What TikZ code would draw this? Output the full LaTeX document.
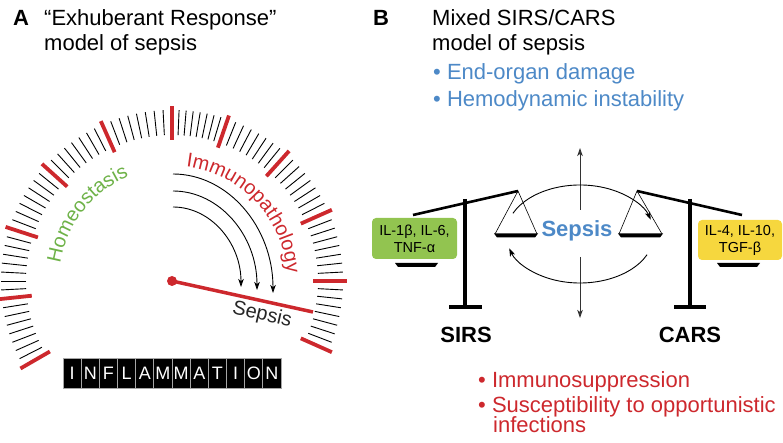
\documentclass[tikz,border=0pt]{standalone}
\usepackage{fontspec}
\setmainfont{Liberation Sans}
\usetikzlibrary{arrows.meta,decorations.text}
\definecolor{gred}{RGB}{205,40,45}
\definecolor{ggreen}{RGB}{110,178,72}
\definecolor{boxgreen}{RGB}{146,196,80}
\definecolor{boxyellow}{RGB}{246,215,62}
\definecolor{sblue}{RGB}{77,137,199}
\begin{document}
\begin{tikzpicture}[x=1pt,y=1pt,
  >={Stealth[length=8pt,width=5.5pt,inset=2pt]},
  txt/.style={anchor=base west,inner sep=0pt,font=\fontsize{22}{25}\selectfont},
  minor/.style={line width=0.9pt,black},
  major/.style={line width=3.8pt,gred},
  tile/.style={fill=black,draw=gray!70,line width=0.8pt,minimum width=18.17pt,minimum height=29.5pt,inner sep=0pt,text=white,font=\fontsize{18}{18}\selectfont},
  beam/.style={line width=2.6pt,black},
  post/.style={line width=4pt,black},
  strg/.style={line width=0.6pt,black},
  cbox/.style={rounded corners=4pt,minimum width=85pt,minimum height=41pt,inner sep=0pt,align=center,font=\fontsize{14.5}{17}\selectfont},
  conn/.style={->,line width=1pt,black!80},
  garrow/.style={->,line width=0.9pt,black}]
\useasboundingbox (0,0) rectangle (783,443);
% ---------- Panel A ----------
\node[txt,font=\bfseries\fontsize{22}{25}\selectfont] (labA) at (13,417) {A};
\node[txt] (tA1) at (44,417) {“Exhuberant Response”};
\node[txt] (tA2) at (44,392) {model of sepsis};
% gauge ticks
\foreach \a/\b in {210/186,186/162,162/138,138/114,114/90,90/71,71/48,48/24,24/0,0/-24}{
  \foreach \k in {1,...,7}{
    \pgfmathsetmacro\t{\a+(\b-\a)*\k/8}
    \draw[minor,shift={(172,162)}] (\t:146) -- (\t:171);
  }
}
\foreach \t in {210,186,162,138,114,90,71,48,24,0,-24}
  \draw[major,shift={(172,162)}] (\t:141) -- (\t:175);
% curved labels
\path[decorate,decoration={text along path,text align=left,text color=ggreen,
  text={|\fontsize{20}{24}\selectfont|Homeostasis}}]
  (172,162) ++(171:113) arc[start angle=171,end angle=95,radius=113];
\path[decorate,decoration={text along path,text align=left,text color=gred,
  text={|\fontsize{20}{24}\selectfont|Immunopathology}}]
  (172,162) ++(83:115) arc[start angle=83,end angle=-12,radius=115];
% arrows
\draw[garrow] (173,269) arc[start angle=90,end angle=0,x radius=100,y radius=119];
\draw[garrow] (173,252) arc[start angle=90,end angle=0,x radius=84,y radius=99];
\draw[garrow] (173,236) arc[start angle=90,end angle=0,x radius=68,y radius=80];
% needle
\draw[gred,line width=3.5pt] (172,162) -- (313,131);
\fill[gred] (172,162) circle (5);
\node[rotate=-13,inner sep=0pt,font=\fontsize{20}{24}\selectfont,text=black!85] (gsep) at (262,128) {Sepsis};
% INFLAMMATION tiles
\foreach \L [count=\i] in {I,N,F,L,A,M,M,A,T,I,O,N}
  \node[tile] (tile\i) at ({63+18.17*(\i-0.5)},69.5) {\L};
% ---------- Panel B ----------
\node[txt,font=\bfseries\fontsize{22}{25}\selectfont] (labB) at (373,417) {B};
\node[txt] (tB1) at (432,417) {Mixed SIRS/CARS};
\node[txt] (tB2) at (432,392) {model of sepsis};
\node[txt,text=sblue] (b1) at (433,363) {• End-organ damage};
\node[txt,text=sblue] (b2) at (433,336) {• Hemodynamic instability};
% left scale
\draw[beam] (413,228) -- (518,252);
\draw[post] (465,244) -- (465,136);
\draw[post] (449,136) -- (482,136);
\draw[strg] (495,209) -- (518,252) -- (537,209);
\fill[black] (494,209.5) -- (538,209.5) -- (535,205.5) -- (497,205.5) -- cycle;
\fill[black] (395,180) -- (438,180) -- (435,176) -- (398,176) -- cycle;
\node[cbox,fill=boxgreen] (gbox) at (414.5,204.5) {IL-1β, IL-6,\\TNF-α};
% right scale
\draw[beam] (637,252) -- (742,228);
\draw[post] (690,244) -- (690,136);
\draw[post] (674,136) -- (706,136);
\draw[strg] (619,209) -- (637,252) -- (662,209);
\fill[black] (618,209.5) -- (663,209.5) -- (660,205.5) -- (621,205.5) -- cycle;
\fill[black] (717,180) -- (760,180) -- (757,176) -- (720,176) -- cycle;
\node[cbox,fill=boxyellow,minimum width=84pt,minimum height=40pt] (ybox) at (740,203) {IL-4, IL-10,\\TGF-β};
% center
\node[inner sep=0pt,font=\bfseries\fontsize{22}{25}\selectfont,text=sblue] (sep) at (577,212) {Sepsis};
\coordinate (up0) at (580,233);
\coordinate (up1) at (580,295);
\coordinate (dn0) at (580,186);
\coordinate (dn1) at (580,125);
\draw[conn] (up0) -- (up1);
\draw[conn] (dn0) -- (dn1);
\draw[garrow] (580,209) ++(155:74 and 49) arc[start angle=155,end angle=17,x radius=74,y radius=49];
\draw[garrow] (580,209) ++(-25:74 and 49) arc[start angle=-25,end angle=-163,x radius=74,y radius=49];
\node[inner sep=0pt,font=\bfseries\fontsize{22}{25}\selectfont] (sirs) at (466,108) {SIRS};
\node[inner sep=0pt,font=\bfseries\fontsize{22}{25}\selectfont] (cars) at (690,108) {CARS};
\node[txt,text=gred] (r1) at (478,55) {• Immunosuppression};
\node[txt,text=gred] (r2) at (478,30) {• Susceptibility to opportunistic};
\node[txt,text=gred] (r3) at (493,10) {infections};
\end{tikzpicture}
\end{document}
